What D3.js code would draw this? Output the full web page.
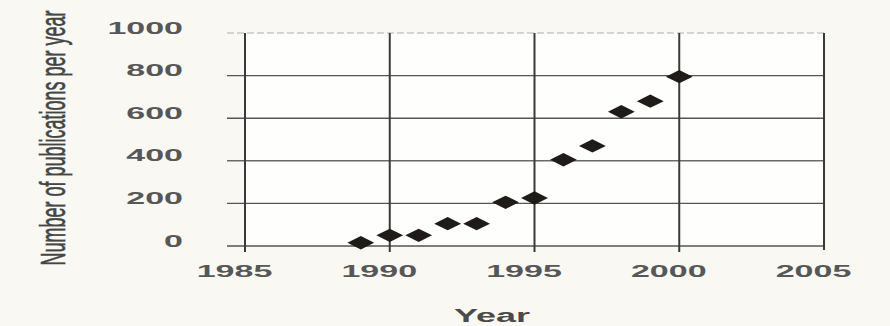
<!DOCTYPE html>
<html>
<head>
<meta charset="utf-8">
<script src="https://cdn.jsdelivr.net/npm/d3@7"></script>
<style>
  html, body { margin: 0; padding: 0; background: #faf8f3; }
  svg { display: block; }
  text { font-family: "Liberation Sans", Arial, sans-serif; }
</style>
</head>
<body>
<svg id="chart" width="890" height="326"></svg>
<script>
// Publications per year, 1989-2000
const years = [1989, 1990, 1991, 1992, 1993, 1994, 1995, 1996, 1997, 1998, 1999, 2000];
const publications = [15, 50, 50, 105, 105, 205, 225, 405, 470, 630, 680, 795];

const xTicks = [1985, 1990, 1995, 2000, 2005];
const yTicks = [0, 200, 400, 600, 800, 1000];

const xTitle = "Year";
const yTitle = "Number of publications per year";

const W = 890, H = 326;
const svg = d3.select("#chart");

// background
svg.append("rect").attr("width", W).attr("height", H).attr("fill", "#faf8f3");

const x = d3.scaleLinear().domain([1985, 2005]).range([245, 824]);
const y = d3.scaleLinear().domain([0, 1000]).range([246, 33]);

// plot area
svg.append("rect")
  .attr("x", x(1985)).attr("y", y(1000))
  .attr("width", x(2005) - x(1985)).attr("height", y(0) - y(1000))
  .attr("fill", "#fefefc");

// horizontal grid lines
const gridColor = d => d === 1000 ? "#b0aeaa" : d === 400 ? "#6a6a6a" : "#555";
svg.append("g").selectAll("line")
  .data(yTicks)
  .join("line")
  .attr("x1", x(1985) - 18)
  .attr("x2", x(2005))
  .attr("y1", d => y(d))
  .attr("y2", d => y(d))
  .attr("stroke", gridColor)
  .attr("stroke-width", d => d === 1000 ? 1 : 1.4)
  .attr("stroke-dasharray", d => d === 1000 ? "7,3" : null);

// vertical grid lines, running a little below the baseline as tick marks
svg.append("g").selectAll("line")
  .data(xTicks)
  .join("line")
  .attr("x1", d => x(d))
  .attr("x2", d => x(d))
  .attr("y1", y(1000))
  .attr("y2", d => d === 2005 ? y(0) + 4 : y(0) + 6)
  .attr("stroke", "#3a3a3a")
  .attr("stroke-width", 2);

// x axis labels
const gx = svg.append("g")
  .attr("transform", `translate(0,${y(0)})`)
  .call(d3.axisBottom(x).tickValues(xTicks).tickSize(0).tickFormat(d3.format("d")));
gx.select(".domain").remove();
gx.selectAll("text")
  .attr("x", 0).attr("y", 31).attr("dy", null)
  .attr("transform", "translate(-11,0) scale(2,1)")
  .attr("text-anchor", "middle")
  .attr("font-size", 17)
  .attr("font-weight", "bold")
  .attr("fill", "#575757")
  .style("font-family", '"Liberation Sans", Arial, sans-serif');

// y axis labels
const gy = svg.append("g")
  .attr("transform", "translate(183,0)")
  .call(d3.axisLeft(y).tickValues(yTicks).tickSize(0).tickFormat(d3.format("d")));
gy.select(".domain").remove();
gy.selectAll("text")
  .attr("x", 0).attr("y", 0).attr("dy", null)
  .attr("transform", "scale(2,1)")
  .attr("text-anchor", "end")
  .attr("font-size", 17)
  .attr("font-weight", "bold")
  .attr("fill", "#575757")
  .style("font-family", '"Liberation Sans", Arial, sans-serif');

// data markers: flattened diamonds
const diamond = d3.symbol(d3.symbolSquare, 90);
svg.append("g").selectAll("path")
  .data(years.map((yr, i) => ({ yr, v: publications[i] })))
  .join("path")
  .attr("d", diamond)
  .attr("transform", d => `translate(${x(d.yr)},${y(d.v)}) scale(2,1) rotate(45)`)
  .attr("fill", "#1e1b19");

// axis titles
svg.append("text")
  .attr("transform", "translate(492,322) scale(2,1)")
  .attr("text-anchor", "middle")
  .attr("font-size", 18)
  .attr("font-weight", "bold")
  .attr("fill", "#4a4a4a")
  .text(xTitle);

svg.append("text")
  .attr("transform", "translate(65,138) scale(2,1) rotate(-90)")
  .attr("text-anchor", "middle")
  .attr("font-size", 18)
  .attr("fill", "#454545")
  .attr("stroke", "#454545")
  .attr("stroke-width", 0.3)
  .text(yTitle);
</script>
</body>
</html>
